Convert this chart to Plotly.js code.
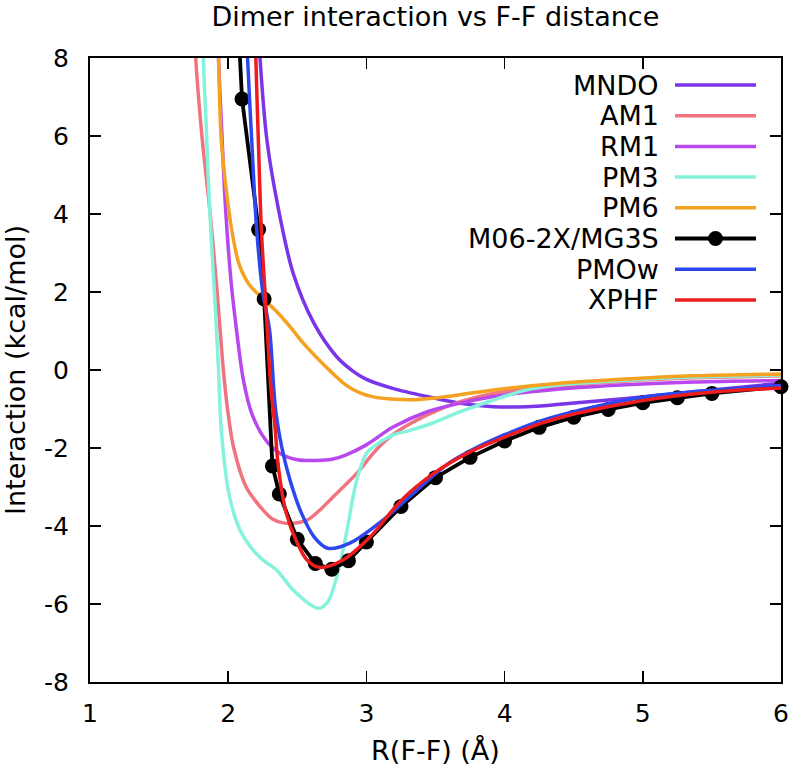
<!DOCTYPE html>
<html><head><meta charset="utf-8">
<script src="https://cdn.plot.ly/plotly-3.0.1.min.js"></script>
<style>html,body{margin:0;padding:0;background:#fff}#chart{width:793px;height:770px}</style>
</head><body><div id="chart"></div>
<script>
const seriesNames = ["MNDO", "AM1", "RM1", "PM3", "PM6", "M06-2X/MG3S", "PMOw", "XPHF"];
const seriesColors = ["#7a35e8", "#f27380", "#b847ee", "#85f2dc", "#f5a122", "#000000", "#2d47ee", "#ee1c1c"];

const mndoX = [2.215, 2.23, 2.28, 2.36, 2.47, 2.62, 2.785, 2.9, 3.0, 3.19, 3.44, 3.68, 3.92, 4.16, 4.40, 4.88, 5.37, 6.0];
const mndoY = [9.0, 8.0, 5.9, 4.19, 2.48, 1.2, 0.34, -0.02, -0.24, -0.47, -0.68, -0.85, -0.94, -0.94, -0.88, -0.73, -0.56, -0.34];

const am1X = [1.755, 1.765, 1.81, 1.87, 1.92, 1.965, 1.995, 2.04, 2.13, 2.23, 2.32, 2.40, 2.47, 2.57, 2.66, 2.76, 2.93, 3.07, 3.19, 3.44, 3.68, 3.92, 4.40, 4.88, 5.37, 6.0];
const am1Y = [9.0, 8.0, 6.0, 4.0, 2.0, 0.0, -1.0, -2.0, -3.0, -3.5, -3.82, -3.92, -3.93, -3.85, -3.6, -3.25, -2.65, -2.05, -1.66, -1.15, -0.81, -0.6, -0.41, -0.28, -0.2, -0.15];

const rm1X = [1.925, 1.93, 1.955, 1.98, 2.02, 2.06, 2.11, 2.17, 2.27, 2.375, 2.5, 2.64, 2.75, 2.85, 3.0, 3.19, 3.44, 3.68, 3.92, 4.40, 4.88, 5.37, 6.0];
const rm1Y = [9.0, 8.0, 6.0, 4.19, 2.3, 1.03, -0.26, -1.11, -1.79, -2.14, -2.3, -2.32, -2.29, -2.18, -1.92, -1.47, -1.07, -0.85, -0.68, -0.49, -0.38, -0.31, -0.27];

const pm3X = [1.815, 1.82, 1.84, 1.865, 1.9, 1.93, 1.95, 2.01, 2.085, 2.16, 2.25, 2.35, 2.47, 2.62, 2.66, 2.72, 2.77, 2.82, 2.86, 2.93, 3.0, 3.05, 3.19, 3.32, 3.44, 3.68, 3.92, 4.16, 4.40, 4.88, 5.37, 6.0];
const pm3Y = [9.0, 8.0, 6.33, 4.19, 2.0, 0.0, -1.54, -3.25, -4.1, -4.53, -4.87, -5.13, -5.64, -6.07, -6.11, -5.95, -5.5, -4.8, -4.10, -2.82, -2.14, -1.97, -1.67, -1.54, -1.41, -1.07, -0.77, -0.51, -0.38, -0.26, -0.18, -0.13];

const pm6X = [1.925, 1.93, 1.95, 1.99, 2.03, 2.08, 2.15, 2.26, 2.35, 2.45, 2.54, 2.64, 2.76, 2.85, 2.95, 3.05, 3.2, 3.35, 3.5, 3.92, 4.40, 4.88, 5.37, 6.0];
const pm6Y = [9.0, 8.0, 5.9, 4.5, 3.5, 2.7, 2.2, 1.8, 1.5, 1.1, 0.7, 0.32, -0.1, -0.38, -0.58, -0.69, -0.75, -0.76, -0.72, -0.51, -0.34, -0.23, -0.15, -0.1];

const m06X = [2.0, 2.1, 2.22, 2.26, 2.32, 2.37, 2.5, 2.63, 2.75, 2.87, 3.0, 3.25, 3.5, 3.75, 4.0, 4.25, 4.5, 4.75, 5.0, 5.25, 5.5, 6.0];
const m06Y = [14.0, 6.95, 3.6, 1.82, -2.46, -3.18, -4.34, -4.96, -5.11, -4.89, -4.41, -3.5, -2.76, -2.24, -1.82, -1.47, -1.21, -1.01, -0.84, -0.71, -0.60, -0.43];

const pmowX = [2.13, 2.14, 2.17, 2.206, 2.25, 2.30, 2.33, 2.346, 2.387, 2.447, 2.53, 2.62, 2.72, 2.88, 3.12, 3.36, 3.60, 3.87, 4.0, 4.25, 4.5, 5.0, 5.5, 6.0];
const pmowY = [9.0, 8.0, 5.9, 3.6, 2.0, 1.0, -0.5, -1.11, -1.97, -2.82, -3.67, -4.27, -4.57, -4.44, -3.85, -3.1, -2.38, -1.86, -1.66, -1.32, -1.07, -0.7, -0.52, -0.4];

const xphfX = [2.195, 2.20, 2.218, 2.24, 2.27, 2.31, 2.34, 2.36, 2.42, 2.50, 2.57, 2.66, 2.83, 3.03, 3.25, 3.5, 3.75, 4.0, 4.25, 4.5, 5.0, 5.5, 6.0];
const xphfY = [9.0, 8.0, 5.9, 3.6, 1.8, -0.5, -1.5, -2.39, -3.67, -4.44, -4.87, -5.06, -4.87, -4.27, -3.35, -2.62, -2.1, -1.72, -1.38, -1.13, -0.78, -0.57, -0.46];

const xTicks = [1, 2, 3, 4, 5, 6];
const yTicks = [-8, -6, -4, -2, 0, 2, 4, 6, 8];

const titleText = "Dimer interaction vs F-F distance";
const xTitle = "R(F-F) (Å)";
const yTitle = "Interaction (kcal/mol)";

const FONT = "DejaVu Sans, sans-serif";
const xs = [mndoX, am1X, rm1X, pm3X, pm6X, m06X, pmowX, xphfX];
const ys = [mndoY, am1Y, rm1Y, pm3Y, pm6Y, m06Y, pmowY, xphfY];

const traces = seriesNames.map((name, i) => {
  const t = {x: xs[i], y: ys[i], name: name, type: "scatter", cliponaxis: false, showlegend: false, hoverinfo: "skip"};
  if (i === 5) {
    t.mode = "lines+markers";
    t.line = {color: seriesColors[i], width: 3.8};
    t.marker = {color: seriesColors[i], size: 15};
  } else {
    t.mode = "lines";
    t.line = {color: seriesColors[i], width: 3.5, shape: "spline", smoothing: 0.9};
  }
  return t;
});

// custom gnuplot-style key: text right-aligned, sample to the right
const keyTextX = 0.826, keyLineX0 = 0.8466, keyLineX1 = 0.9638;
const keyTop = 0.9567, keyStep = 0.0492;
const shapes = [], annotations = [];
seriesNames.forEach((name, i) => {
  const y = keyTop - i * keyStep;
  annotations.push({text: name, xref: "paper", yref: "paper", x: keyTextX, y: y,
    xanchor: "right", yanchor: "middle", showarrow: false, font: {family: FONT, size: 27, color: "#000"}});
  shapes.push({type: "line", xref: "paper", yref: "paper", x0: keyLineX0, x1: keyLineX1, y0: y, y1: y,
    line: {color: seriesColors[i], width: i === 5 ? 3.8 : 3.5}});
  if (i === 5) {
    const xc = (keyLineX0 + keyLineX1) / 2;
    shapes.push({type: "circle", xref: "paper", yref: "paper", xsizemode: "pixel", ysizemode: "pixel",
      xanchor: xc, yanchor: y, x0: -7.5, x1: 7.5, y0: -7.5, y1: 7.5,
      fillcolor: seriesColors[i], line: {color: seriesColors[i], width: 0}});
  }
});

const axisCommon = {
  showline: true, linecolor: "#000", linewidth: 2, mirror: "ticks",
  ticks: "inside", ticklen: 11, tickwidth: 1.5, tickcolor: "#000",
  showgrid: false, zeroline: false,
  tickfont: {family: FONT, size: 25, color: "#000"}
};

const layout = {
  width: 793, height: 770,
  margin: {l: 90, r: 12, t: 58, b: 88},
  paper_bgcolor: "#fff", plot_bgcolor: "#fff",
  font: {family: FONT, color: "#000"},
  title: {text: titleText, font: {family: FONT, size: 27, color: "#000"},
    x: 0.549, xref: "container", xanchor: "center", y: 0.978, yref: "container", yanchor: "middle"},
  xaxis: Object.assign({}, axisCommon, {range: [1, 6], tickvals: xTicks, ticktext: xTicks.map(String),
    ticklabelstandoff: 8,
    title: {text: xTitle, font: {family: FONT, size: 27, color: "#000"}, standoff: 14}}),
  yaxis: Object.assign({}, axisCommon, {range: [-8, 8], tickvals: yTicks, ticktext: yTicks.map(String),
    ticklabelstandoff: 14,
    title: {text: yTitle, font: {family: FONT, size: 27, color: "#000"}, standoff: 12}}),
  shapes: shapes, annotations: annotations,
  showlegend: false
};

Plotly.newPlot("chart", traces, layout, {staticPlot: true, displayModeBar: false});
</script></body></html>
